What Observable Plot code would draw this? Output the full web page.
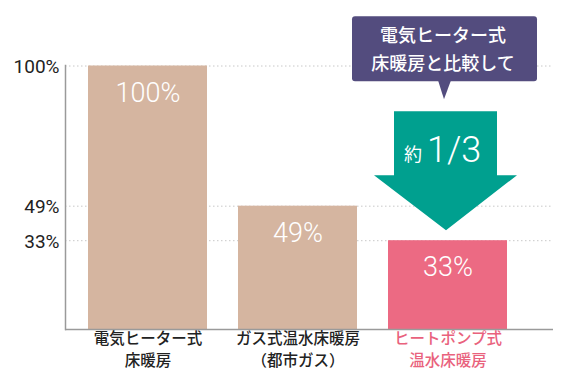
<!DOCTYPE html>
<html>
<head>
<meta charset="utf-8">
<script src="https://cdn.jsdelivr.net/npm/d3@7"></script>
<script src="https://cdn.jsdelivr.net/npm/@observablehq/plot@0.6"></script>
<style>
  html, body { margin: 0; padding: 0; background: #fff; }
  #chart svg { display: block; }
</style>
</head>
<body>
<div id="chart"></div>
<script>
const categories = ["電気ヒーター式\n床暖房", "ガス式温水床暖房\n（都市ガス）", "ヒートポンプ式\n温水床暖房"];
const values = [100, 49, 33];
const valueLabels = ["100%", "49%", "33%"];
const yTicks = [100, 49, 33];
const yTickLabels = ["100%", "49%", "33%"];
const calloutLines = ["電気ヒーター式", "床暖房と比較して"];
const arrowPrefix = "約";
const arrowText = "1/3";

const tan = "#d5b5a0";
const pink = "#ec6a83";
const pinkText = "#e9627d";
const purple = "#534c7e";
const teal = "#00a08f";

const data = categories.map((c, i) => ({cat: c, value: values[i], label: valueLabels[i]}));
const ticks = yTicks.map((v, i) => ({v, label: yTickLabels[i]}));
const colorOf = c => c === categories[2] ? pink : tan;
const labelColor = c => c === categories[2] ? pinkText : "#222";

// The reference's vertical axis is not drawn to a strict linear scale:
// this maps each tick value to where the picture places it.
const axisWarp = d3.scaleLinear().domain([0, 33, 49, 100]).range([0, 33.7, 46.8, 100]);

const W = 570, H = 387;
const jp = "'Noto Sans CJK JP', sans-serif";
const chart = Plot.plot({
  width: W,
  height: H,
  marginLeft: 65,
  marginRight: 17,
  marginTop: 65,
  marginBottom: 58,
  style: {fontFamily: "Roboto, 'Noto Sans CJK JP', sans-serif", background: "#fff"},
  x: {domain: categories, range: [71, 523], paddingInner: 0.21, paddingOuter: 0.105, axis: null},
  y: {domain: [0, 100], range: [329, 65.5], transform: axisWarp, axis: null},
  marks: [
    Plot.ruleY(yTicks, {stroke: "#c8c8c8", strokeWidth: 1, strokeDasharray: "1.5,2.5"}),
    Plot.barY(data, {x: "cat", y: "value", fill: d => colorOf(d.cat)}),
    Plot.text(data, {x: "cat", y: "value", text: "label", dy: 27, fill: "#fff", fontSize: 27, fontWeight: 300, fontFamily: "Roboto, sans-serif"}),
    Plot.text(ticks, {y: "v", text: "label", frameAnchor: "left", textAnchor: "end", dx: -6, dy: 1, fontSize: 19, fill: "#222", fontFamily: "Roboto, sans-serif"}),
    Plot.frame({anchor: "left", stroke: "#9a9a9a", strokeWidth: 1.5}),
    Plot.ruleY([0], {stroke: "#9a9a9a", strokeWidth: 1.5}),
    Plot.text(categories, {x: d => d, text: d => d.split("\n")[0], frameAnchor: "bottom", dy: 14.5, fontSize: 15.5, fontWeight: 500, fontFamily: jp, fill: labelColor}),
    Plot.text(categories, {x: d => d, text: d => d.split("\n")[1], frameAnchor: "bottom", dy: 36.5, fontSize: 15.5, fontWeight: 500, fontFamily: jp, fill: labelColor})
  ]
});
document.getElementById("chart").appendChild(chart);

// Annotation positioned from the plot's own scales
const xs = chart.scale("x"), ys = chart.scale("y");
const cx = xs.apply(categories[2]) + xs.bandwidth / 2 - 1.5;
const tipY = ys.apply(axisWarp(values[2])) - 10;
const svg = d3.select(chart);
const g = svg.append("g");

// teal arrow
const arrow = [
  [cx - 52, tipY - 119], [cx + 51, tipY - 119], [cx + 51, tipY - 55],
  [cx + 71, tipY - 55], [cx, tipY], [cx - 72, tipY - 55], [cx - 52, tipY - 55]
];
g.append("path").attr("d", "M" + arrow.join("L") + "Z").attr("fill", teal);
g.append("text").attr("x", cx - 33).attr("y", tipY - 77).attr("text-anchor", "middle")
  .attr("dominant-baseline", "central").attr("fill", "#fff").attr("font-size", 18)
  .attr("font-family", jp).text(arrowPrefix);
g.append("text").attr("x", cx - 19).attr("y", tipY - 68).attr("text-anchor", "start")
  .attr("fill", "#fff").attr("font-size", 36).attr("font-weight", 300)
  .attr("font-family", "Roboto, sans-serif").text(arrowText);

// purple callout
const bx0 = cx - 94, bx1 = cx + 91, by0 = tipY - 214, by1 = tipY - 149;
g.append("rect").attr("x", bx0).attr("y", by0).attr("width", bx1 - bx0).attr("height", by1 - by0)
  .attr("rx", 3).attr("fill", purple);
g.append("path").attr("d", `M${cx - 8},${by1 - 1}L${cx + 5},${by1 - 1}L${cx - 2},${tipY - 131}Z`).attr("fill", purple);
calloutLines.forEach((t, i) => {
  g.append("text").attr("x", cx - 3).attr("y", by0 + 18 + i * 28).attr("text-anchor", "middle")
    .attr("dominant-baseline", "central").attr("fill", "#fff").attr("font-size", 18).attr("font-weight", 500)
    .attr("font-family", jp).text(t);
});
</script>
</body>
</html>
